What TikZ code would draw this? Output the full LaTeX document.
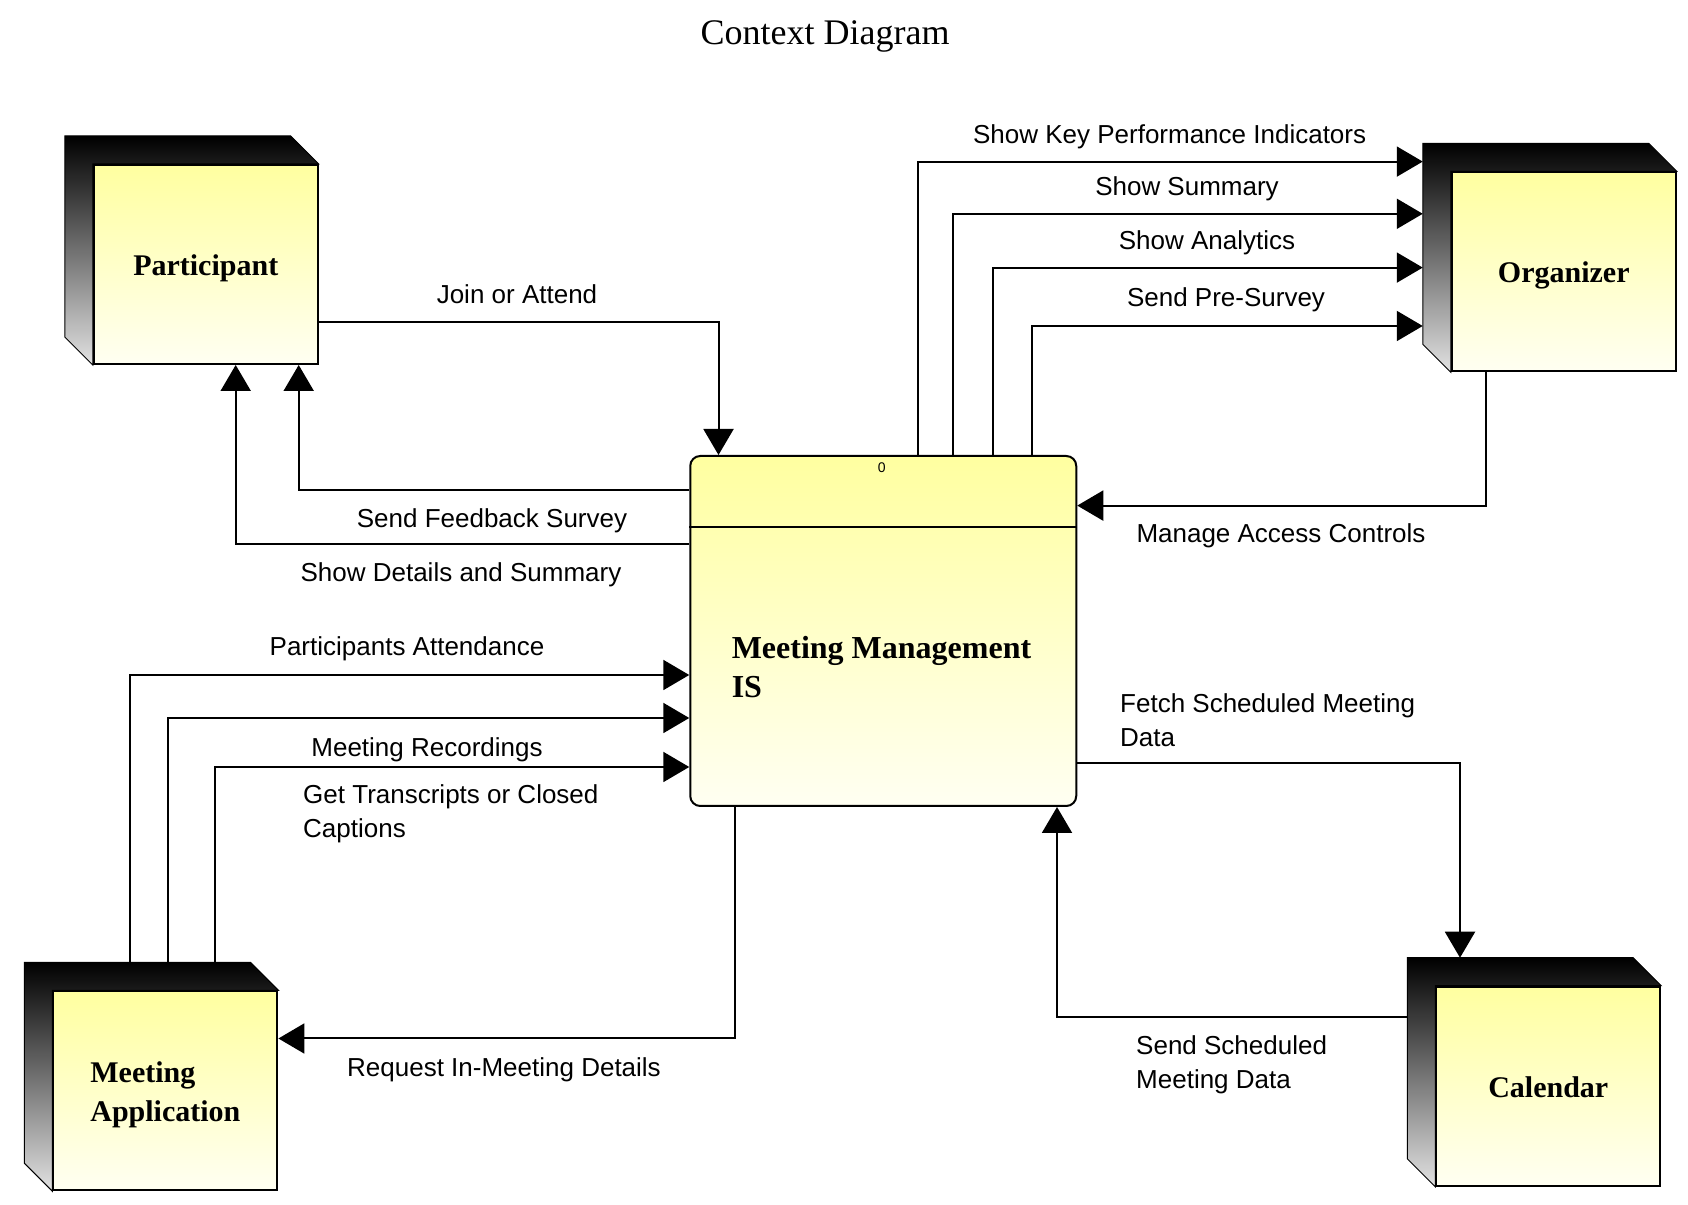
\documentclass[tikz,border=0pt]{standalone}
\usepackage{fontspec}
\setmainfont{Liberation Serif}
\setsansfont{Liberation Sans}
\usetikzlibrary{arrows.meta}

\definecolor{facetop}{RGB}{255,255,160}
\definecolor{facebot}{RGB}{255,255,242}
\definecolor{sidebot}{RGB}{226,226,226}

\tikzset{
  entity/.style={draw,line width=2pt,top color=facetop,bottom color=facebot,
    minimum width=224pt,minimum height=199pt,inner sep=0pt,align=left,
    font=\fontsize{30}{39}\selectfont\bfseries},
  process/.style={draw,line width=2pt,rounded corners=10pt,top color=facetop,
    bottom color=facebot,minimum width=386pt,minimum height=350pt},
  side/.style={draw,line width=1pt,top color=black,bottom color=sidebot},
  flow/.style={line width=2pt,-{Triangle[length=26pt,width=30pt]}},
  lbl/.style={font=\sffamily\fontsize{26}{34}\selectfont,inner sep=0pt,
    text height=18.6pt,text depth=0pt},
  lbltwo/.style={font=\sffamily\fontsize{26}{34}\selectfont,inner sep=0pt,
    align=left,anchor=north west}
}

\begin{document}
\begin{tikzpicture}[x=1pt,y=1pt]
 \useasboundingbox (0,0) rectangle (1688,1204);
 \node[anchor=base,font=\fontsize{36}{40}\selectfont] (title) at (825,1159) {Context Diagram};

 % external entities
 \node[entity,text height=21.8pt,text depth=0pt] (part) at (205.75,939.5) {Participant};
 \node[entity,text height=21.8pt,text depth=0pt] (org) at (1563.75,932.2) {Organizer};
 \node[entity] (app) at (165.4,113.2) {\rule{0pt}{29pt}Meeting\\Application};
 \node[entity,text height=21.8pt,text depth=0pt] (cal) at (1548.25,117.75) {Calendar};
 \shade[side] (part.north east) -- ++(-28,28) -- ([shift={(-28,28)}]part.north west)
   -- ([shift={(-28,28)}]part.south west) -- (part.south west) -- (part.north west) -- cycle;
 \shade[side] (org.north east) -- ++(-28,28) -- ([shift={(-28,28)}]org.north west)
   -- ([shift={(-28,28)}]org.south west) -- (org.south west) -- (org.north west) -- cycle;
 \shade[side] (app.north east) -- ++(-28,28) -- ([shift={(-28,28)}]app.north west)
   -- ([shift={(-28,28)}]app.south west) -- (app.south west) -- (app.north west) -- cycle;
 \shade[side] (cal.north east) -- ++(-28,28) -- ([shift={(-28,28)}]cal.north west)
   -- ([shift={(-28,28)}]cal.south west) -- (cal.south west) -- (cal.north west) -- cycle;
 \coordinate (orgback) at ([shift={(-28,28)}]org.north west);
 \coordinate (appback) at ([shift={(-28,28)}]app.north west);
 \coordinate (calback) at ([shift={(-28,28)}]cal.north west);

 % process
 \node[process] (mm) at (883.25,573) {};
 \draw[line width=2pt] ([yshift=-72pt]mm.north west) -- ([yshift=-72pt]mm.north east);
 \node[font=\sffamily\fontsize{14}{16}\selectfont,inner sep=0pt] (mmid) at (881.7,736.5) {0};
 \node[align=left,inner sep=0pt,font=\fontsize{32}{39}\selectfont\bfseries] (mmlabel)
   at (881.5,536.5) {Meeting Management\\IS};

 % flows
 \draw[flow] (part.east |- 0,882) -| (718.5,0 |- mm.north);
 \draw[flow] (mm.west |- 0,714) -| (298.7,0 |- part.south);
 \draw[flow] (mm.west |- 0,660) -| (235.7,0 |- part.south);
 \draw[flow] (918.3,0 |- mm.north) |- (orgback |- 0,1042.4);
 \draw[flow] (952.7,0 |- mm.north) |- (orgback |- 0,990.2);
 \draw[flow] (992.5,0 |- mm.north) |- (orgback |- 0,936.4);
 \draw[flow] (1032.4,0 |- mm.north) |- (orgback |- 0,878);
 \draw[flow] (1486,0 |- org.south) |- (mm.east |- 0,698.4);
 \draw[flow] (130,0 |- appback) |- (mm.west |- 0,529);
 \draw[flow] (168,0 |- appback) |- (mm.west |- 0,486);
 \draw[flow] (215,0 |- appback) |- (mm.west |- 0,437);
 \draw[flow] (735,0 |- mm.south) |- (app.east |- 0,165.5);
 \draw[flow] (mm.east |- 0,441) -| (1460,0 |- calback);
 \draw[flow] (calback |- 0,187.4) -| (1057,0 |- mm.south);

 % flow labels
 \node[lbl] (ljoin) at (517,910) {Join or Attend};
 \node[lbl] (lfeed) at (492,686) {Send Feedback Survey};
 \node[lbl] (ldet) at (461,632) {Show Details and Summary};
 \node[lbl] (lkpi) at (1169.6,1069.6) {Show Key Performance Indicators};
 \node[lbl] (lsum) at (1187,1018) {Show Summary};
 \node[lbl] (lana) at (1207,964) {Show Analytics};
 \node[lbl] (lpre) at (1226,906.5) {Send Pre-Survey};
 \node[lbl] (lacc) at (1281,670.4) {Manage Access Controls};
 \node[lbl] (latt) at (407,558) {Participants Attendance};
 \node[lbl] (lrec) at (427,457) {Meeting Recordings};
 \node[lbltwo] (ltra) at (303,419.3) {Get Transcripts or Closed\\Captions};
 \node[lbl] (lreq) at (504,137) {Request In-Meeting Details};
 \node[lbltwo] (lfet) at (1120,510.7) {Fetch Scheduled Meeting\\Data};
 \node[lbltwo] (lsend) at (1136,168.7) {Send Scheduled\\Meeting Data};
\end{tikzpicture}
\end{document}
